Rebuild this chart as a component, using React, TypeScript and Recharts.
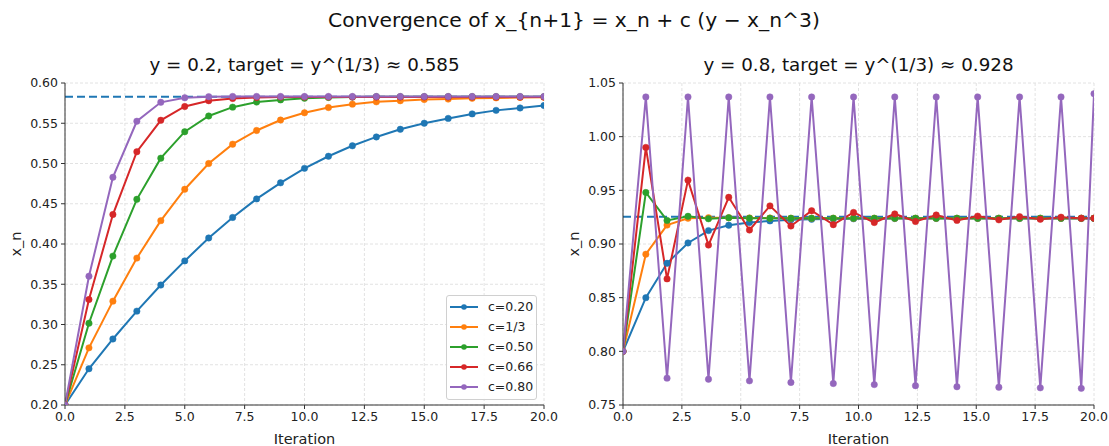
import React from "react";
import {
  LineChart,
  Line,
  XAxis,
  YAxis,
  CartesianGrid,
  ReferenceLine,
  Legend,
} from "recharts";

const FONT = "'DejaVu Sans', Verdana, sans-serif";
const COLORS = ["#1f77b4", "#ff7f0e", "#2ca02c", "#d62728", "#9467bd"];
const SERIES_NAMES = ["c=0.20", "c=1/3", "c=0.50", "c=0.66", "c=0.80"];

// left panel: y = 0.2
const leftIter = [0, 1, 2, 3, 4, 5, 6, 7, 8, 9, 10, 11, 12, 13, 14, 15, 16, 17, 18, 19, 20];
const leftC020 = [0.2, 0.245, 0.282, 0.3166, 0.349, 0.379, 0.4075, 0.433, 0.456, 0.476, 0.494, 0.509, 0.522, 0.533, 0.5425, 0.55, 0.556, 0.5616, 0.566, 0.569, 0.572];
const leftC13 = [0.2, 0.271, 0.329, 0.3825, 0.429, 0.468, 0.5, 0.524, 0.541, 0.554, 0.563, 0.5695, 0.5737, 0.5766, 0.578, 0.5795, 0.58, 0.581, 0.5815, 0.582, 0.5822];
const leftC050 = [0.2, 0.3016, 0.385, 0.4555, 0.5066, 0.5395, 0.559, 0.57, 0.5763, 0.579, 0.581, 0.582, 0.5825, 0.583, 0.583, 0.583, 0.583, 0.583, 0.583, 0.583, 0.583];
const leftC066 = [0.2, 0.331, 0.4366, 0.5146, 0.5537, 0.5708, 0.578, 0.5808, 0.582, 0.5825, 0.5825, 0.5825, 0.5825, 0.5825, 0.5825, 0.5825, 0.5825, 0.5825, 0.5825, 0.5825, 0.5825];
const leftC080 = [0.2, 0.36, 0.4829, 0.5525, 0.576, 0.5816, 0.583, 0.5833, 0.5833, 0.5833, 0.5833, 0.5833, 0.5833, 0.5833, 0.5833, 0.5833, 0.5833, 0.5833, 0.5833, 0.5833, 0.5833];
const leftTarget = 0.583;
const leftYTicks = [0.2, 0.25, 0.3, 0.35, 0.4, 0.45, 0.5, 0.55, 0.6];

// right panel: y = 0.8
const rightIter = [0, 0.97, 1.87, 2.76, 3.63, 4.49, 5.37, 6.24, 7.13, 8.01, 8.93, 9.79, 10.67, 11.54, 12.42, 13.3, 14.18, 15.06, 15.96, 16.84, 17.72, 18.6, 19.46, 20.0];
const rightC020 = [0.8, 0.85, 0.882, 0.901, 0.9125, 0.9175, 0.92, 0.9215, 0.9225, 0.923, 0.9233, 0.9235, 0.9236, 0.9237, 0.9237, 0.9238, 0.9238, 0.9238, 0.9238, 0.9238, 0.9238, 0.9238, 0.9238, 0.9238];
const rightC13 = [0.8, 0.8905, 0.9176, 0.924, 0.9245, 0.9245, 0.9243, 0.9242, 0.924, 0.924, 0.924, 0.924, 0.924, 0.924, 0.924, 0.924, 0.924, 0.924, 0.924, 0.924, 0.924, 0.924, 0.924, 0.924];
const rightC050 = [0.8, 0.948, 0.922, 0.9258, 0.9235, 0.9245, 0.924, 0.924, 0.924, 0.924, 0.924, 0.924, 0.924, 0.924, 0.924, 0.924, 0.924, 0.924, 0.924, 0.924, 0.924, 0.924, 0.924, 0.924];
const rightC066 = [0.8, 0.99, 0.8675, 0.9595, 0.899, 0.9435, 0.913, 0.9355, 0.9168, 0.931, 0.918, 0.9294, 0.92, 0.928, 0.921, 0.927, 0.922, 0.926, 0.9225, 0.9255, 0.923, 0.925, 0.924, 0.924];
const rightC080 = [0.8, 1.037, 0.775, 1.037, 0.774, 1.037, 0.7725, 1.037, 0.771, 1.037, 0.77, 1.037, 0.769, 1.037, 0.768, 1.037, 0.767, 1.037, 0.7665, 1.037, 0.766, 1.037, 0.7655, 1.04];
const rightTarget = 0.9253;
const rightYTicks = [0.75, 0.8, 0.85, 0.9, 0.95, 1.0, 1.05];

const xTicks = [0, 2.5, 5, 7.5, 10, 12.5, 15, 17.5, 20];

function buildRows(iter: number[], series: number[][]) {
  return iter.map((it, i) => {
    const row: Record<string, number> = { it };
    series.forEach((s, k) => {
      row[SERIES_NAMES[k]] = s[i];
    });
    return row;
  });
}

const leftData = buildRows(leftIter, [leftC020, leftC13, leftC050, leftC066, leftC080]);
const rightData = buildRows(rightIter, [rightC020, rightC13, rightC050, rightC066, rightC080]);

const tickStyle = { fontSize: 12.5, fill: "#222", fontFamily: FONT };

function YLab(props: any) {
  const vb = props.viewBox || { x: 0, y: 0, width: 0, height: 0 };
  const cx = vb.x + 11;
  const cy = vb.y + vb.height / 2;
  return (
    <text
      x={cx}
      y={cy}
      transform={`rotate(-90 ${cx} ${cy})`}
      textAnchor="middle"
      dominantBaseline="central"
      fontSize={14.5}
      fill="#222"
      fontFamily={FONT}
    >
      x_n
    </text>
  );
}

function XLab(props: any) {
  const vb = props.viewBox || { x: 0, y: 0, width: 0, height: 0 };
  return (
    <text
      x={vb.x + vb.width / 2}
      y={439}
      textAnchor="middle"
      dominantBaseline="central"
      fontSize={14.5}
      fill="#222"
      fontFamily={FONT}
    >
      Iteration
    </text>
  );
}

function LegendBox(props: any) {
  const payload = [...(props.payload || [])].sort(
    (a: any, b: any) => SERIES_NAMES.indexOf(a.value) - SERIES_NAMES.indexOf(b.value)
  );
  return (
    <div
      style={{
        border: "1px solid #d0d0d0",
        borderRadius: 3,
        background: "rgba(255,255,255,0.85)",
        padding: "1px 0 2px 2px",
        fontFamily: FONT,
        fontSize: 12.5,
        color: "#222",
        boxSizing: "border-box",
        width: 91,
      }}
    >
      {payload.map((p: any) => (
        <div key={p.value} style={{ display: "flex", alignItems: "center", height: 20 }}>
          <svg width={30} height={10} style={{ display: "block" }}>
            <line x1={1} y1={5} x2={29} y2={5} stroke={p.color} strokeWidth={2} />
            <circle cx={15} cy={5} r={2.8} fill={p.color} />
          </svg>
          <span style={{ marginLeft: 9, lineHeight: "20px" }}>{p.value}</span>
        </div>
      ))}
    </div>
  );
}

function Panel(props: {
  data: Record<string, number>[];
  left: number;
  width: number;
  marginLeft: number;
  marginRight: number;
  yDomain: [number, number];
  yTicks: number[];
  target: number;
  title: string;
  showLegend: boolean;
}) {
  const { data, left, width, marginLeft, marginRight, yDomain, yTicks, target, title, showLegend } = props;
  const plotLeft = left + marginLeft + 60;
  const plotRight = left + width - marginRight;
  const center = (plotLeft + plotRight) / 2;
  return (
    <>
      <div
        style={{
          position: "absolute",
          left: center - 250,
          width: 500,
          top: 53,
          textAlign: "center",
          fontSize: 18.3,
          lineHeight: "24px",
          color: "#111",
          fontFamily: FONT,
        }}
      >
        {title}
      </div>
      <div style={{ position: "absolute", left, top: 0 }}>
        <LineChart
          width={width}
          height={446}
          data={data}
          margin={{ top: 83, right: marginRight, bottom: 0, left: marginLeft }}
        >
          <CartesianGrid stroke="#e2e2e2" strokeDasharray="3 2" verticalValues={xTicks} horizontalValues={yTicks} />
          <XAxis
            dataKey="it"
            type="number"
            domain={[0, 20]}
            ticks={xTicks}
            allowDataOverflow
            tickFormatter={(v: number) => v.toFixed(1)}
            tick={tickStyle}
            tickSize={4}
            tickMargin={3}
            height={41}
            stroke="#333"
            label={<XLab />}
          />
          <XAxis xAxisId="top" orientation="top" dataKey="it" type="number" domain={[0, 20]} height={0} tick={false} tickLine={false} stroke="#333" />
          <YAxis
            type="number"
            domain={yDomain}
            ticks={yTicks}
            allowDataOverflow
            tickFormatter={(v: number) => v.toFixed(2)}
            tick={tickStyle}
            tickSize={4}
            tickMargin={3}
            width={60}
            stroke="#333"
            label={<YLab />}
          />
          <YAxis yAxisId="r" orientation="right" type="number" domain={yDomain} width={0} tick={false} tickLine={false} stroke="#333" />
          <ReferenceLine y={target} stroke="#1f77b4" strokeDasharray="8 4" strokeWidth={2} />
          {SERIES_NAMES.map((name, i) => (
            <Line
              key={name}
              type="linear"
              dataKey={name}
              name={name}
              stroke={COLORS[i]}
              strokeWidth={2}
              dot={{ r: 3.2, fill: COLORS[i], stroke: COLORS[i], strokeWidth: 0.5 }}
              activeDot={false}
              isAnimationActive={false}
            />
          ))}
          {showLegend && (
            <Legend
              layout="vertical"
              align="center"
              verticalAlign="middle"
              content={<LegendBox />}
              wrapperStyle={{ left: 446, top: 295, width: 91, height: 103 }}
            />
          )}
        </LineChart>
      </div>
    </>
  );
}

export default function App() {
  return (
    <div
      style={{
        position: "absolute",
        left: 0,
        top: 0,
        width: 1109,
        height: 446,
        background: "#fff",
        fontFamily: FONT,
        overflow: "hidden",
      }}
    >
      <div
        style={{
          position: "absolute",
          left: 274,
          width: 600,
          top: 7,
          textAlign: "center",
          fontSize: 20.3,
          lineHeight: "26px",
          color: "#111",
        }}
      >
        Convergence of x_{"{n+1}"} = x_n + c (y − x_n^3)
      </div>
      <Panel
        data={leftData}
        left={0}
        width={580}
        marginLeft={5}
        marginRight={36}
        yDomain={[0.2, 0.6]}
        yTicks={leftYTicks}
        target={leftTarget}
        title="y = 0.2, target = y^(1/3) ≈ 0.585"
        showLegend={true}
      />
      <Panel
        data={rightData}
        left={560}
        width={549}
        marginLeft={3}
        marginRight={15}
        yDomain={[0.75, 1.05]}
        yTicks={rightYTicks}
        target={rightTarget}
        title="y = 0.8, target = y^(1/3) ≈ 0.928"
        showLegend={false}
      />
    </div>
  );
}
